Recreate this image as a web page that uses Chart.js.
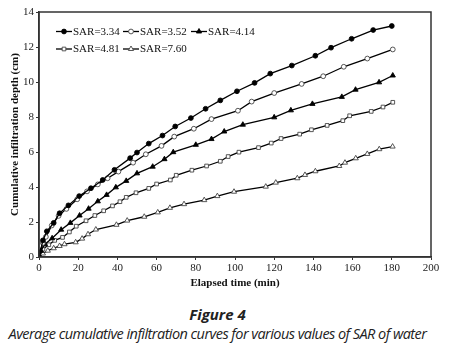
<!DOCTYPE html>
<html>
<head>
<meta charset="utf-8">
<script src="https://cdn.jsdelivr.net/npm/chart.js@4.4.1/dist/chart.umd.min.js"></script>
<style>
  html, body { margin: 0; padding: 0; background: #fff; }
  #wrap { position: relative; width: 449px; height: 348px; overflow: hidden; }
  #box { position: absolute; left: 0; top: 0; width: 449px; height: 290px; }
  .cap { position: absolute; left: 0; width: 449px; text-align: center; font-family: "Open Sans", sans-serif; font-style: italic; color: #222; white-space: nowrap; }
  #fig { top: 304px; font-size: 15px; font-weight: bold; left: -7px; }
  #desc { top: 324px; font-size: 14.5px; letter-spacing: -0.55px; left: -7px; }
</style>
</head>
<body>
<div id="wrap">
  <div id="box"><canvas id="chart" width="449" height="290"></canvas></div>
  <div class="cap" id="fig">Figure 4</div>
  <div class="cap" id="desc">Average cumulative infiltration curves for various values of SAR of water</div>
</div>
<script>
// values: elapsed time (min) and cumulative depth (cm)
const sar334Time  = [0, 2, 4, 7.5, 10.5, 15, 20.5, 26.5, 32.5, 38.5, 46.5, 50, 56, 63, 69.5, 77.5, 85, 92.5, 101, 110, 118, 129, 141, 149, 159.5, 170.5, 180];
const sar334Depth = [0, 0.95, 1.47, 1.95, 2.5, 2.95, 3.48, 3.93, 4.4, 4.98, 5.65, 5.97, 6.48, 6.94, 7.46, 7.94, 8.47, 8.95, 9.47, 9.95, 10.48, 10.94, 11.5, 11.96, 12.47, 12.97, 13.2];

const sar352Time  = [0, 2, 3.5, 6.5, 10, 14, 19.5, 24.5, 30, 35, 40.5, 48, 54.5, 62.5, 69, 79, 88, 101.5, 108.5, 120, 134, 145, 155.5, 167.5, 180.5];
const sar352Depth = [0, 0.8, 1.15, 1.8, 2.35, 2.75, 3.3, 3.75, 4.15, 4.5, 4.88, 5.39, 5.87, 6.35, 6.88, 7.33, 7.88, 8.36, 8.88, 9.37, 9.89, 10.33, 10.87, 11.34, 11.86];

const sar414Time  = [0, 1, 3, 6.7, 11.3, 16, 20.7, 25.3, 30, 34.5, 39.2, 44.5, 50, 58, 64, 68.5, 80, 88, 94.5, 104, 120, 128.5, 139.5, 154.5, 161.5, 173.5, 180.5];
const sar414Depth = [0, 0.35, 0.73, 1.07, 1.56, 1.95, 2.37, 2.76, 3.18, 3.55, 3.98, 4.35, 4.78, 5.16, 5.59, 5.99, 6.41, 6.74, 7.17, 7.56, 7.98, 8.38, 8.75, 9.15, 9.56, 9.98, 10.37];

const sar481Time  = [0, 2, 5, 8, 12, 15.5, 19, 24, 28.5, 33, 37.5, 41.3, 44.5, 49.5, 56, 60, 67, 70, 78, 85.5, 92.5, 96.5, 102, 112, 118.5, 123.5, 133, 139, 147, 155, 158.5, 169.5, 175.5, 180.5];
const sar481Depth = [0, 0.45, 0.7, 0.95, 1.12, 1.43, 1.76, 2.07, 2.37, 2.64, 2.92, 3.16, 3.41, 3.67, 3.92, 4.17, 4.4, 4.67, 4.96, 5.2, 5.47, 5.74, 5.99, 6.25, 6.51, 6.77, 7.02, 7.27, 7.52, 7.79, 8.07, 8.32, 8.57, 8.84];

const sar760Time  = [0, 2, 4.5, 7.5, 10.5, 13, 18.7, 22, 25, 29, 39.5, 45, 53.7, 60.6, 66.8, 74, 84.3, 91, 99.5, 115.7, 120.8, 131.8, 135.7, 141, 153.2, 156.1, 161.6, 167.5, 173.6, 180.4];
const sar760Depth = [0, 0.2, 0.36, 0.5, 0.63, 0.73, 0.84, 1.05, 1.3, 1.57, 1.84, 2.08, 2.3, 2.55, 2.81, 3.02, 3.25, 3.48, 3.73, 4.02, 4.25, 4.5, 4.69, 4.9, 5.2, 5.39, 5.64, 5.89, 6.16, 6.31];

const seriesLabels = ['SAR=3.34', 'SAR=3.52', 'SAR=4.14', 'SAR=4.81', 'SAR=7.60'];
const xTicks = [0, 20, 40, 60, 80, 100, 120, 140, 160, 180, 200];
const yTicks = [0, 2, 4, 6, 8, 10, 12, 14];

const pairs = (xs, ys) => xs.map((x, i) => ({ x, y: ys[i] }));

function makeSet(label, xs, ys, style, filled, radius) {
  return {
    label,
    data: pairs(xs, ys),
    borderColor: '#000',
    borderWidth: 1.3,
    pointStyle: style,
    pointRadius: radius,
    pointBorderWidth: 0.9,
    pointBorderColor: filled ? '#000' : '#444',
    pointBackgroundColor: filled ? '#000' : '#fff',
    tension: 0,
    fill: false,
  };
}

const datasets = [
  makeSet(seriesLabels[0], sar334Time, sar334Depth, 'circle', true, 2.4),
  makeSet(seriesLabels[1], sar352Time, sar352Depth, 'circle', false, 2.4),
  makeSet(seriesLabels[2], sar414Time, sar414Depth, 'triangle', true, 3),
  makeSet(seriesLabels[3], sar481Time, sar481Depth, 'rect', false, 2.6),
  makeSet(seriesLabels[4], sar760Time, sar760Depth, 'triangle', false, 3),
];

// frame around the plot area
const frame = {
  id: 'frame',
  afterDatasetsDraw(chart) {
    const { ctx, chartArea: a } = chart;
    ctx.save();
    ctx.strokeStyle = '#333';
    ctx.lineWidth = 1.5;
    ctx.strokeRect(a.left, a.top, a.right - a.left, a.bottom - a.top);
    ctx.restore();
  }
};

// legend inside the plot: line + marker + label, two rows
const insideLegend = {
  id: 'insideLegend',
  afterDraw(chart) {
    const { ctx } = chart;
    const spots = [[56, 31.5], [123, 31.5], [191, 31.5], [56, 49], [123, 49]];
    ctx.save();
    chart.data.datasets.forEach((ds, i) => {
      const [x, y] = spots[i];
      ctx.strokeStyle = '#000';
      ctx.lineWidth = 1.3;
      ctx.beginPath();
      ctx.moveTo(x, y);
      ctx.lineTo(x + 16, y);
      ctx.stroke();
      ctx.fillStyle = ds.pointBackgroundColor;
      ctx.strokeStyle = ds.pointBorderColor;
      ctx.lineWidth = ds.pointBorderWidth;
      Chart.helpers.drawPoint(ctx, { pointStyle: ds.pointStyle, radius: ds.pointRadius, borderWidth: ds.pointBorderWidth, rotation: 0 }, x + 8, y);
      ctx.fillStyle = '#111';
      ctx.font = '11px "Liberation Serif", serif';
      ctx.textBaseline = 'middle';
      ctx.fillText(ds.label, x + 17, y + 0.5);
    });
    ctx.restore();
  }
};

const tickFont = { family: '"Liberation Serif", serif', size: 11 };
const titleFont = { family: '"Liberation Serif", serif', size: 11, weight: 'bold' };

new Chart(document.getElementById('chart'), {
  type: 'line',
  data: { datasets },
  options: {
    responsive: false,
    animation: false,
    layout: { padding: { top: 12, right: 18, left: 0, bottom: 0 } },
    plugins: { legend: { display: false }, tooltip: { enabled: false } },
    scales: {
      x: {
        type: 'linear',
        min: 0, max: 200,
        afterBuildTicks: s => { s.ticks = xTicks.map(v => ({ value: v })); },
        afterFit: s => { s.height = 33; },
        ticks: { color: '#222', font: tickFont, padding: 2, maxRotation: 0 },
        grid: { drawOnChartArea: false, drawTicks: true, tickLength: 3, color: '#333' },
        border: { color: '#333', width: 1.5 },
        title: { display: true, text: 'Elapsed time (min)', color: '#111', font: titleFont, padding: { top: 0, bottom: 0 } },
      },
      y: {
        min: 0, max: 14,
        afterBuildTicks: s => { s.ticks = yTicks.map(v => ({ value: v })); },
        afterFit: s => { s.width = 39; },
        ticks: { color: '#222', font: tickFont, padding: 2 },
        grid: { drawOnChartArea: false, drawTicks: true, tickLength: 3, color: '#333' },
        border: { color: '#333', width: 1.5 },
        title: { display: true, text: 'Cumulative infiltration depth (cm)', color: '#111', font: titleFont, padding: { top: 9, bottom: 0 } },
      },
    },
  },
  plugins: [frame, insideLegend],
});
</script>
</body>
</html>
